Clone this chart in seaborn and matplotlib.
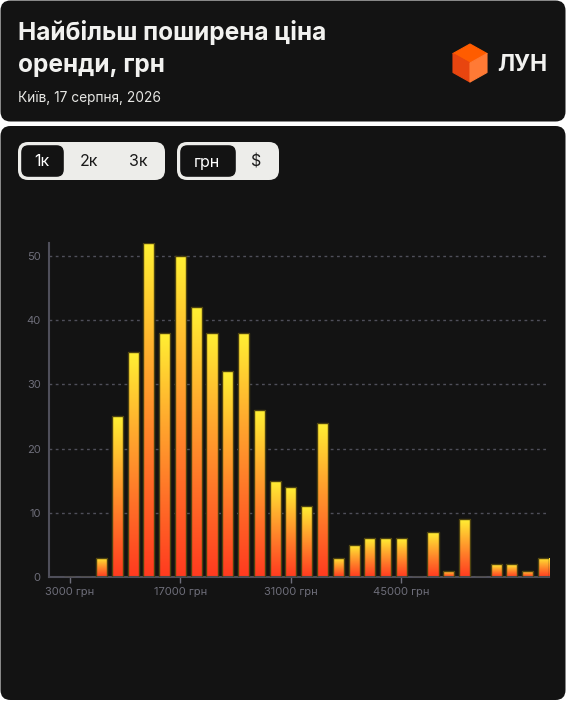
import numpy as np
import pandas as pd
import matplotlib
matplotlib.use("Agg")
import matplotlib.pyplot as plt
import seaborn as sns
from matplotlib.patches import FancyBboxPatch, Polygon
from matplotlib.colors import LinearSegmentedColormap

# data
prices = [3000, 5000, 7000, 9000, 11000, 13000, 15000, 17000, 19000, 21000,
          23000, 25000, 27000, 29000, 31000, 33000, 35000, 37000, 39000, 41000,
          43000, 45000, 47000, 49000, 51000, 53000, 55000, 57000, 59000, 61000,
          63000]
counts = [0, 0, 3, 25, 35, 52, 38, 50, 42, 38,
          32, 38, 26, 15, 14, 11, 24, 3, 5, 6,
          6, 6, 0, 7, 1, 9, 0, 2, 2, 1,
          3]
x_ticks = [3000, 17000, 31000, 45000]
y_ticks = [0, 10, 20, 30, 40, 50]

title_lines = ["Найбільш поширена ціна", "оренди, грн"]
subtitle = "Київ, 17 серпня, 2026"
rooms = ["1к", "2к", "3к"]
currencies = ["грн", "$"]

BG = "#131313"
GRID = "#4f4f5a"
TICK = "#6e6e7a"

sns.set_style("dark", rc={"axes.facecolor": "none", "figure.facecolor": "white"})
plt.rcParams["font.family"] = ["Inter", "DejaVu Sans"]

W, H = 566, 701
fig = plt.figure(figsize=(W / 100, H / 100), dpi=100)

# background / decorations layer in pixel coords
bg = fig.add_axes([0, 0, 1, 1], zorder=0)
bg.set_xlim(0, W)
bg.set_ylim(H, 0)
bg.axis("off")

bg.add_patch(FancyBboxPatch((0.5, 0.5), W - 1, 121, boxstyle="round,pad=0,rounding_size=10",
                            fc=BG, ec="none"))
bg.add_patch(FancyBboxPatch((0.5, 126), W - 1, H - 127, boxstyle="round,pad=0,rounding_size=10",
                            fc=BG, ec="none"))

bg.text(18, 40, title_lines[0], color="#f2f2f0", fontsize=17.6, fontweight="bold", va="baseline")
bg.text(18, 72, title_lines[1], color="#f2f2f0", fontsize=17.6, fontweight="bold", va="baseline")
bg.text(18, 102, subtitle, color="#e6e6e3", fontsize=9.9, va="baseline")

# logo cube
cx, cy = 470, 63
top, ur, lr, bot, ll, ul = (470, 44), (487, 53.5), (487, 72.5), (470, 82), (453, 72.5), (453, 53.5)
bg.add_patch(Polygon([top, ur, (cx, cy), ul], fc="#ff5c00", ec="#ff5c00", lw=0.8, joinstyle="round"))
bg.add_patch(Polygon([ul, (cx, cy), bot, ll], fc="#e8450f", ec="#e8450f", lw=0.8, joinstyle="round"))
bg.add_patch(Polygon([(cx, cy), ur, lr, bot], fc="#ff7a35", ec="#ff7a35", lw=0.8, joinstyle="round"))
bg.text(497, 71, "ЛУН", color="#f2f2f0", fontsize=16.5, fontweight="bold", va="baseline")

# toggle buttons
def pill(x, y, w, h, fc, ec="none", r=9):
    bg.add_patch(FancyBboxPatch((x, y), w, h, boxstyle=f"round,pad=0,rounding_size={r}",
                                fc=fc, ec=ec, lw=1))

pill(18, 142, 147, 38, "#ededea", r=10)
pill(20.5, 144.5, 44, 33, BG, ec="#ededea", r=8)
for label, xc in zip(rooms, [42, 89, 138]):
    bg.text(xc, 162, label, color="white" if label == rooms[0] else "#1a1a1a",
            fontsize=11.5, ha="center", va="center")

pill(177, 142, 102, 38, "#ededea", r=10)
pill(179.5, 144.5, 57, 33, BG, ec="#ededea", r=8)
for label, xc in zip(currencies, [207, 256]):
    bg.text(xc, 162, label, color="white" if label == currencies[0] else "#1a1a1a",
            fontsize=11.5, ha="center", va="center")

# chart
ax = fig.add_axes([49 / W, (H - 577) / H, 500 / W, 334 / H], zorder=1)
df = pd.DataFrame({"price": prices, "count": counts})
sns.barplot(data=df, x="price", y="count", native_scale=True, width=0.7,
            color="#ff8a2a", edgecolor="#4d4210", linewidth=1, ax=ax, zorder=3)

xlim = (350, 63700)
ylim = (0, 52)

cmap = LinearSegmentedColormap.from_list("heat", ["#ff3a1f", "#ff7228", "#ffae2e", "#fff033"])
grad = np.linspace(0, 1, 256).reshape(-1, 1)
for p in list(ax.patches):
    h = p.get_height()
    if h <= 0:
        continue
    x0 = p.get_x()
    w = p.get_width()
    im = ax.imshow(grad, extent=[x0, x0 + w, 0, h], origin="lower", aspect="auto",
                   cmap=cmap, zorder=2.5)
    im.set_clip_path(p)
    p.set_facecolor("none")

ax.set_xlim(*xlim)
ax.set_ylim(*ylim)

ax.set_xticks(x_ticks)
ax.set_xticklabels([f"{t} грн" for t in x_ticks])
ax.set_yticks(y_ticks)
ax.set_yticklabels([str(t) for t in y_ticks])
ax.tick_params(axis="x", colors=TICK, labelsize=8, length=4, width=1, pad=3, direction="out")
ax.tick_params(axis="y", colors=TICK, labelsize=8, length=0, pad=6)
ax.tick_params(axis="x", bottom=True)
ax.set_xlabel("")
ax.set_ylabel("")

ax.grid(False)
for t in y_ticks[1:]:
    ax.axhline(t, color=GRID, lw=1, ls=(0, (2, 2.5)), zorder=1)

for side in ["top", "right"]:
    ax.spines[side].set_visible(False)
for side in ["left", "bottom"]:
    ax.spines[side].set_visible(True)
    ax.spines[side].set_color(GRID)
    ax.spines[side].set_linewidth(1.5)

fig.savefig("out.png", dpi=100, facecolor="white")
